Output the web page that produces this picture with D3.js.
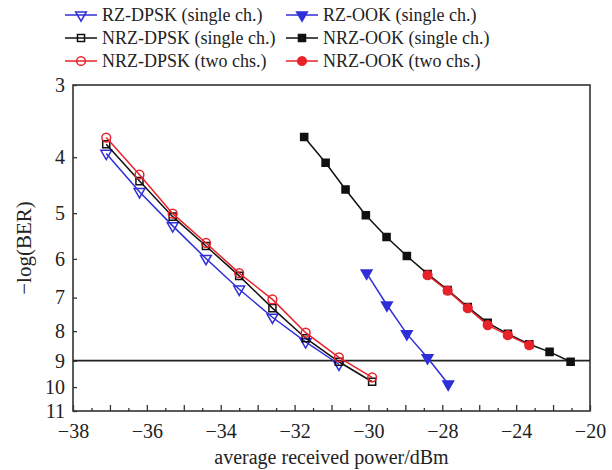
<!DOCTYPE html>
<html>
<head>
<meta charset="utf-8">
<script src="https://cdn.jsdelivr.net/npm/d3@7"></script>
<style>
  body { margin: 0; background: #fff; }
</style>
</head>
<body>
<svg id="chart" width="612" height="470"></svg>
<script>
// values
const xTicks = [-38, -36, -34, -32, -30, -28, -24, -20];
const yTicks = [3, 4, 5, 6, 7, 8, 9, 10, 11];

const dpskPower = [-37.1, -36.2, -35.3, -34.4, -33.5, -32.6, -31.7, -30.8, -29.9];
const rzDpskSingle = [3.94, 4.59, 5.26, 5.99, 6.77, 7.57, 8.35, 9.13];
const nrzDpskSingle = [3.80, 4.40, 5.07, 5.70, 6.42, 7.30, 8.23, 9.04, 9.79];
const nrzDpskTwo = [3.70, 4.29, 5.01, 5.63, 6.35, 7.05, 8.05, 8.88, 9.62];

const rzOokPower = [-30.05, -29.5, -28.96, -28.4, -27.68];
const rzOokSingle = [6.35, 7.21, 8.09, 8.90, 9.88];

const nrzOokPower = [-31.74, -31.16, -30.62, -30.07, -29.51, -28.96, -28.4, -27.71,
  -26.62, -25.54, -24.45, -23.29, -22.19, -21.05];
const nrzOokSingle = [3.69, 4.09, 4.55, 5.04, 5.50, 5.93, 6.37, 6.79, 7.27, 7.74, 8.09, 8.43, 8.69, 9.04];

const nrzOokTwoPower = [-28.4, -27.71, -26.62, -25.54, -24.45, -23.29];
const nrzOokTwo = [6.40, 6.81, 7.30, 7.81, 8.13, 8.46];

const threshold = 9;

(function() {

const svg = d3.select('#chart');
const left = 73, right = 590, top = 85, bottom = 411;
const font = '"Liberation Serif", "Times New Roman", Times, serif';

const blue = '#2f2fd8', red = '#e8222a', black = '#111';

// the picture's axis jumps from 2 dB to 4 dB steps after -28
const x = d3.scaleLinear().domain([-38, -28, -20]).range([left, 442.3, right]);
const y = d3.scaleLog().domain([3, 11]).range([top, bottom]);

// minor ticks: three per labelled interval
const minor = [];
for (let i = 0; i < xTicks.length - 1; i++) {
  const a = xTicks[i], b = xTicks[i + 1];
  minor.push(a + (b - a) / 4, a + (b - a) / 2, a + 3 * (b - a) / 4);
}

svg.append('g')
  .attr('transform', `translate(0,${bottom})`)
  .call(d3.axisBottom(x).tickValues(minor.filter((d, i) => i % 3 !== 1)).tickSize(-3).tickFormat(''))
  .call(g => g.select('.domain').remove())
  .call(g => g.selectAll('line').attr('stroke', '#333').attr('stroke-width', 1.3));

svg.append('g')
  .attr('transform', `translate(0,${bottom})`)
  .call(d3.axisBottom(x).tickValues(minor.filter((d, i) => i % 3 === 1)).tickSize(-6).tickFormat(''))
  .call(g => g.select('.domain').remove())
  .call(g => g.selectAll('line').attr('stroke', '#333').attr('stroke-width', 1.3));

svg.append('g')
  .attr('transform', `translate(0,${bottom})`)
  .call(d3.axisBottom(x).tickValues(xTicks).tickSize(-6).tickPadding(13).tickFormat(d3.format('d')))
  .call(g => g.select('.domain').remove())
  .call(g => g.selectAll('line').attr('stroke', '#333').attr('stroke-width', 1.3))
  .call(g => g.selectAll('text').style('font-family', font).style('font-size', '20px').attr('fill', '#222'));

svg.append('g')
  .attr('transform', `translate(${left},0)`)
  .call(d3.axisLeft(y).tickValues(yTicks).tickSize(-4).tickPadding(8).tickFormat(d3.format('d')))
  .call(g => g.select('.domain').remove())
  .call(g => g.selectAll('line').attr('stroke', '#333').attr('stroke-width', 1.3))
  .call(g => g.selectAll('text').style('font-family', font).style('font-size', '20px').attr('fill', '#222'));

// frame
svg.append('rect')
  .attr('x', left).attr('y', top)
  .attr('width', right - left).attr('height', bottom - top)
  .attr('fill', 'none').attr('stroke', '#333').attr('stroke-width', 1.6);

// BER threshold
svg.append('line')
  .attr('x1', left).attr('x2', right)
  .attr('y1', y(threshold)).attr('y2', y(threshold))
  .attr('stroke', '#222').attr('stroke-width', 1.6);

svg.append('text')
  .attr('x', (left + right) / 2).attr('y', 464)
  .attr('text-anchor', 'middle')
  .style('font-family', font).style('font-size', '20px').attr('fill', '#222')
  .text('average received power/dBm');

svg.append('text')
  .attr('transform', `translate(31,${(top + bottom) / 2}) rotate(-90)`)
  .attr('text-anchor', 'middle')
  .style('font-family', font).style('font-size', '21px').attr('fill', '#222')
  .text('\u2212log(BER)');

const sym = {
  triDown: d3.symbol().type(d3.symbolTriangle).size(50),
  square: d3.symbol().type(d3.symbolSquare).size(50),
  circle: d3.symbol().type(d3.symbolCircle).size(60)
};

const series = [
  {name: 'RZ-DPSK (single ch.)', xs: dpskPower, ys: rzDpskSingle, color: blue, shape: 'triDown', filled: false},
  {name: 'NRZ-DPSK (single ch.)', xs: dpskPower, ys: nrzDpskSingle, color: black, shape: 'square', filled: false},
  {name: 'NRZ-DPSK (two chs.)', xs: dpskPower, ys: nrzDpskTwo, color: red, shape: 'circle', filled: false},
  {name: 'RZ-OOK (single ch.)', xs: rzOokPower, ys: rzOokSingle, color: blue, shape: 'triDown', filled: true},
  {name: 'NRZ-OOK (single ch.)', xs: nrzOokPower, ys: nrzOokSingle, color: black, shape: 'square', filled: true},
  {name: 'NRZ-OOK (two chs.)', xs: nrzOokTwoPower, ys: nrzOokTwo, color: red, shape: 'circle', filled: true}
];

const line = d3.line().x(d => x(d[0])).y(d => y(d[1]));

function marker(g, s) {
  g.attr('d', sym[s.shape]())
    .attr('fill', s.filled ? s.color : 'none')
    .attr('stroke', s.color)
    .attr('stroke-width', 1.5);
}

function rot(s) { return s.shape === 'triDown' ? ' rotate(180)' : ''; }

series.forEach(s => {
  const pts = s.ys.map((v, i) => [s.xs[i], v]);
  const g = svg.append('g');
  g.append('path')
    .attr('d', line(pts))
    .attr('fill', 'none')
    .attr('stroke', s.color)
    .attr('stroke-width', 1.5);
  g.selectAll('path.mk')
    .data(pts)
    .enter().append('path')
      .attr('class', 'mk')
      .attr('transform', d => `translate(${x(d[0])},${y(d[1])})${rot(s)}`)
      .call(p => marker(p, s));
});

// legend: two columns, three rows
const legendCols = [65, 286];
const legendRows = [15, 38, 61];
series.forEach((s, i) => {
  const lx = legendCols[Math.floor(i / 3)];
  const ly = legendRows[i % 3];
  const g = svg.append('g').attr('transform', `translate(${lx},${ly})`);
  g.append('line')
    .attr('x1', 0).attr('x2', 32)
    .attr('stroke', s.color).attr('stroke-width', 1.5);
  g.append('path')
    .attr('transform', `translate(16,0)${rot(s)}`)
    .call(p => marker(p, s));
  g.append('text')
    .attr('x', 37).attr('dy', '0.35em')
    .style('font-family', font).style('font-size', '18px').attr('fill', '#222')
    .text(s.name);
});

})();
</script>
</body>
</html>
